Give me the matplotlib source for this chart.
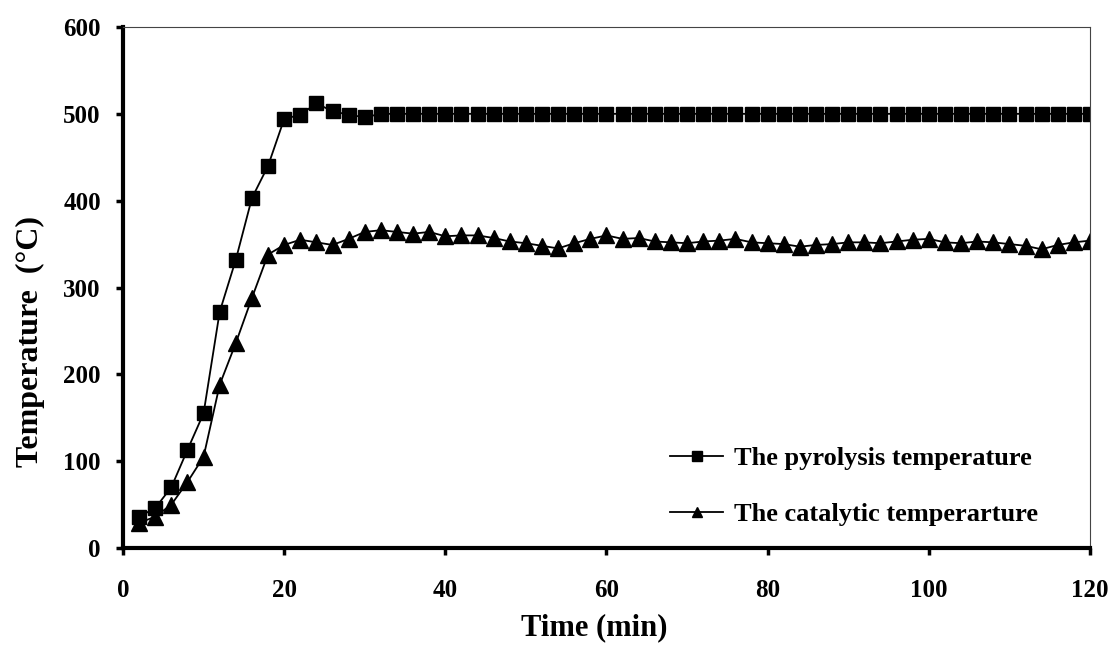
"""Pyrolysis and catalytic reactor temperatures over time."""

import matplotlib

matplotlib.use("Agg")
import matplotlib.pyplot as plt

# time in minutes, one reading every 2 min
time_min = list(range(2, 122, 2))

pyrolysis_temp = [
    36, 46, 70, 113, 155, 272, 332, 403, 440, 494,
    499, 512, 503, 499, 496, 500, 500, 500, 500, 500,
    500, 500, 500, 500, 500, 500, 500, 500, 500, 500,
    500, 500, 500, 500, 500, 500, 500, 500, 500, 500,
    500, 500, 500, 500, 500, 500, 500, 500, 500, 500,
    500, 500, 500, 500, 500, 500, 500, 500, 500, 500,
]

catalytic_temp = [
    29, 36, 50, 76, 105, 188, 236, 288, 338, 349,
    355, 352, 349, 356, 364, 366, 364, 362, 364, 359,
    360, 360, 357, 353, 351, 348, 345, 351, 356, 360,
    356, 357, 353, 352, 351, 353, 354, 356, 352, 351,
    350, 347, 349, 350, 352, 352, 351, 353, 355, 356,
    352, 351, 353, 352, 350, 348, 344, 349, 352, 354,
]

x_ticks = [0, 20, 40, 60, 80, 100, 120]
y_ticks = [0, 100, 200, 300, 400, 500, 600]

plt.rcParams["font.family"] = ["Liberation Serif", "DejaVu Serif"]


def main() -> None:
    fig = plt.figure(figsize=(11.12, 6.46), dpi=100)
    ax = fig.add_axes([0.1106, 0.1517, 0.8696, 0.8065])

    ax.plot(time_min, pyrolysis_temp, color="black", linewidth=1.3,
            marker="s", markersize=10.5, label="The pyrolysis temperature")
    ax.plot(time_min, catalytic_temp, color="black", linewidth=1.3,
            marker="^", markersize=11, label="The catalytic temperarture")

    ax.set_xlim(0, 120)
    ax.set_ylim(0, 600)
    ax.set_xticks(x_ticks)
    ax.set_yticks(y_ticks)

    # heavy left/bottom axes, thin box on top/right like the Excel original
    for side in ("left", "bottom"):
        ax.spines[side].set_linewidth(3)
    for side in ("top", "right"):
        ax.spines[side].set_linewidth(0.8)
        ax.spines[side].set_color("#444444")

    ax.tick_params(axis="both", direction="out", length=5, width=2.5,
                   labelsize=18)
    ax.tick_params(axis="x", pad=17)
    ax.tick_params(axis="y", pad=11)
    for lbl in ax.get_xticklabels() + ax.get_yticklabels():
        lbl.set_fontweight("bold")

    ax.set_xlabel("Time (min)", fontsize=22, fontweight="bold")
    ax.xaxis.set_label_coords(0.487, -0.125)
    ax.set_ylabel("Temperature  (°C)", fontsize=23, fontweight="bold")
    ax.yaxis.set_label_coords(-0.081, 0.396)

    ax.legend(loc="center left", bbox_to_anchor=(0.566, 0.118),
              frameon=False, prop={"size": 19, "weight": "bold"},
              handlelength=2.0, handletextpad=0.4, labelspacing=1.25,
              markerscale=0.7, borderpad=0, borderaxespad=0)

    fig.savefig("out.png", dpi=100)
    plt.close(fig)


if __name__ == "__main__":
    main()
